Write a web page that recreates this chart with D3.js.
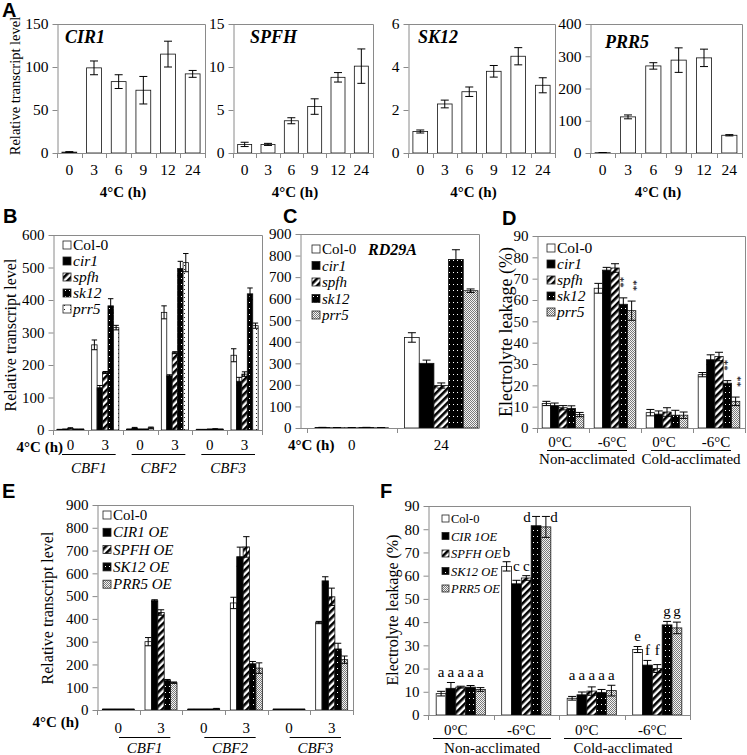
<!DOCTYPE html>
<html><head><meta charset="utf-8">
<script src="https://cdn.jsdelivr.net/npm/d3@7"></script>
<style>body{margin:0;background:#fff}svg{display:block}svg text{font-family:"Liberation Serif","Times New Roman",serif}</style>
</head><body>
<svg id="c" width="747" height="755"></svg>
<script>
// ---------------- DATA ----------------
const timesA = ["0","3","6","9","12","24"];
const genesA = ["CIR1","SPFH","SK12","PRR5"];
const cir1Mean = [1,99,83,73,115,92];
const cir1Err  = [0.6,8,8,16,15,4];
const spfhMean = [1.0,1.0,3.75,5.4,8.8,10.1];
const spfhErr  = [0.25,0.12,0.35,0.9,0.55,2.0];
const sk12Mean = [1.0,2.28,2.85,3.8,4.5,3.15];
const sk12Err  = [0.07,0.18,0.22,0.27,0.4,0.35];
const prr5Mean = [1,112,270,288,295,55];
const prr5Err  = [0.5,6,10,38,27,2];
const ticksCIR1 = [0,50,100,150];
const ticksSPFH = [0,5,10,15];
const ticksSK12 = [0,2,4,6];
const ticksPRR5 = [0,100,200,300,400];

const mutants = ["Col-0","cir1","spfh","sk12","prr5"];
const overexpE = ["Col-0","CIR1 OE","SPFH OE","SK12 OE","PRR5 OE"];
const overexpF = ["Col-0","CIR 1OE","SPFH OE","SK12 OE","PRR5 OE"];
const cbfGenes = ["CBF1","CBF2","CBF3"];
const hoursCBF = ["0","3"];
const hoursC = ["0","24"];
const tempLabels = ["0°C","-6°C","0°C","-6°C"];
const treatLabels = ["Non-acclimated","Cold-acclimated"];

// B: rows = CBF1-0h, CBF1-3h, CBF2-0h, CBF2-3h, CBF3-0h, CBF3-3h ; cols = genotypes
const bMean = [[1,2,5,2,2],[262,130,177,382,315],[2,6,2,2,7],[362,167,238,497,515],[1,1,2,3,2],[230,150,172,419,321]];
const bErr  = [[1,1,2,1,1],[15,7,3,22,7],[1,2,1,1,2],[20,3,3,22,28],[1,1,1,1,1],[20,12,7,18,8]];
const ticksB = [0,100,200,300,400,500,600];

// C: RD29A, rows = 0h, 24h
const cMean = [[2,1,1,2,1],[420,300,197,782,637]];
const cErr  = [[1,1,1,1,1],[22,15,12,45,8]];
const ticksC = [0,100,200,300,400,500,600,700,800,900];

// D: electrolyte leakage, mutants
const dMean = [[11.5,10.5,9.5,9.2,6.3],[65.5,74,75,58,55],[7.2,6.5,7.5,6,6],[25,32,33.5,21,12.5]];
const dErr  = [[1,1.2,1,1.2,1],[2.3,1.3,2,3,4.5],[1.5,1.5,2,2.3,1.5],[1,2.3,2,1.2,2]];
const dStars = [[1,3],[1,4],[3,3],[3,4]]; // [category, genotype] marked "**"
const ticksD = [0,10,20,30,40,50,60,70,80,90];

// E: CBF in overexpressors
const eMean = [[3,3,3,3,3],[300,480,428,130,120],[3,3,3,3,5],[470,673,716,203,184],[3,3,3,3,3],[384,567,497,268,221]];
const eErr  = [[1,1,1,1,1],[18,4,12,4,3],[1,1,1,1,2],[25,42,45,10,23],[1,1,1,1,1],[5,18,38,25,16]];
const ticksE = [0,100,200,300,400,500,600,700,800,900];

// F: electrolyte leakage, overexpressors
const fMean = [[9.2,11.5,12,12,11],[64,56.5,59,81.5,81],[7.2,8.7,10.3,9.7,10.5],[28.2,21.5,20,38.8,37.5]];
const fErr  = [[1,2.5,0.4,0.7,0.8],[2,1.5,1,4,4.5],[0.8,1.2,1.8,1.3,2.3],[1.3,2,1.7,1.5,2.5]];
const fLetters = [["a","a","a","a","a"],["b","c","c","d","d"],["a","a","a","a","a"],["e","f","f","g","g"]];
const ticksF = [0,10,20,30,40,50,60,70,80,90];

// ---------------- STYLE ----------------
const SERIF = '"Liberation Serif", "Times New Roman", serif';
const SANS = '"Liberation Sans", Arial, sans-serif';
const AX = "#8a8a8a";
const svg = d3.select("#c");
const defs = svg.append("defs");

function pattern(id, w, h, build, transform){
  const p = defs.append("pattern").attr("id",id).attr("width",w).attr("height",h).attr("patternUnits","userSpaceOnUse");
  if(transform) p.attr("patternTransform",transform);
  build(p);
}
pattern("stripe",5,5,p=>{p.append("rect").attr("width",5).attr("height",5).attr("fill","#fff");p.append("rect").attr("width",2.6).attr("height",5).attr("fill","#000");},"rotate(45)");
pattern("dots",4,6,p=>{p.append("rect").attr("width",4).attr("height",6).attr("fill","#000");p.append("rect").attr("x",1).attr("y",2).attr("width",1).attr("height",1).attr("fill","#fff");});
pattern("gray",2,2,p=>{p.append("rect").attr("width",2).attr("height",2).attr("fill","#f4f4f4");p.append("rect").attr("width",1).attr("height",1).attr("fill","#7a7a7a");p.append("rect").attr("x",1).attr("y",1).attr("width",1).attr("height",1).attr("fill","#7a7a7a");});
pattern("wdots",6,4,p=>{p.append("rect").attr("width",6).attr("height",4).attr("fill","#fff");p.append("rect").attr("x",4).attr("y",1).attr("width",1).attr("height",1).attr("fill","#222");});

const fillsMain = ["#fff","#000","url(#stripe)","url(#dots)","url(#gray)"];
const fillsB = ["#fff","#000","url(#stripe)","url(#dots)","url(#wdots)"];

function txt(x,y,s,o={}){
  const t = svg.append("text").attr("x",x).attr("y",y).text(s)
    .style("font-family",o.ff||SERIF).style("font-size",(o.fs||15)+"px").attr("fill","#000");
  if(o.anchor) t.attr("text-anchor",o.anchor);
  if(o.bold) t.style("font-weight","bold");
  if(o.italic) t.style("font-style","italic");
  if(o.rot){ t.attr("transform",`rotate(-90,${x},${y})`).attr("text-anchor",o.anchor||"middle").attr("dominant-baseline","central"); }
  return t;
}

// generic grouped bar chart
function chart(o){
  const nC = o.mean.length, nS = o.mean[0].length;
  const x0 = d3.scaleBand().domain(d3.range(nC)).range([o.bl!==undefined?o.bl:o.l, o.br!==undefined?o.br:o.r]);
  const y = d3.scaleLinear().domain([0,o.yMax]).range([o.b,o.t]);
  const bw0 = x0.bandwidth(), inner = bw0*o.frac;
  const x1 = d3.scaleBand().domain(d3.range(nS)).range([0,inner]);
  const g = svg.append("g");
  const cx = (i,j)=> x0(i)+(bw0-inner)/2+x1(j)+x1.bandwidth()/2;
  for(let i=0;i<nC;i++) for(let j=0;j<nS;j++){
    const v=o.mean[i][j];
    g.append("rect").attr("x",x0(i)+(bw0-inner)/2+x1(j)).attr("y",y(v))
      .attr("width",x1.bandwidth()).attr("height",Math.max(0,o.b-y(v)))
      .attr("fill",o.fills[j]).attr("stroke","#111").attr("stroke-width",0.8);
  }
  const cap = Math.min(4, x1.bandwidth()/2);
  for(let i=0;i<nC;i++) for(let j=0;j<nS;j++){
    const v=o.mean[i][j], e=o.err[i][j], c=cx(i,j);
    const y1=y(v+e), y2=y(Math.max(0,v-e));
    g.append("line").attr("x1",c).attr("x2",c).attr("y1",y1).attr("y2",y2).attr("stroke","#000").attr("stroke-width",1);
    [y1,y2].forEach(yy=>g.append("line").attr("x1",c-cap).attr("x2",c+cap).attr("y1",yy).attr("y2",yy).attr("stroke","#000").attr("stroke-width",1));
  }
  g.append("path").attr("d",`M${o.l},${o.t+0.5}H${o.r+0.5}V${o.b}`).attr("fill","none").attr("stroke",AX).attr("stroke-width",1);
  g.append("g").attr("transform",`translate(${o.l+0.5},0)`)
    .call(d3.axisLeft(y).tickValues(o.ticks).tickSize(5).tickSizeOuter(0).tickPadding(4).tickFormat(d3.format("d")))
    .call(s=>{s.attr("font-family",null).attr("font-size",null);
      s.select(".domain").attr("stroke",AX);s.selectAll(".tick line").attr("stroke",AX);
      s.selectAll("text").style("font-family",SERIF).style("font-size",(o.tfs||15)+"px").attr("fill","#000");});
  g.append("line").attr("x1",o.l).attr("x2",o.r+0.5).attr("y1",o.b+0.5).attr("y2",o.b+0.5).attr("stroke",AX);
  for(let i=0;i<=nC;i++){
    const xx = i<nC? x0(i): x0(nC-1)+bw0;
    if(xx<o.l-0.5||xx>o.r+0.5) continue;
    g.append("line").attr("x1",Math.round(xx)+0.5).attr("x2",Math.round(xx)+0.5).attr("y1",o.b).attr("y2",o.b+5).attr("stroke",AX);
  }
  return {x0,y,x1,cx,bw0};
}

function legend(x,y0,dy,names,fills,fs,italicFrom,sw){
  names.forEach((n,i)=>{
    const yy=y0+i*dy;
    svg.append("rect").attr("x",x).attr("y",yy-sw-1).attr("width",sw).attr("height",sw)
      .attr("fill",fills[i]).attr("stroke","#222").attr("stroke-width",0.8);
    txt(x+sw+2,yy,n,{fs:fs,italic:i>=italicFrom});
  });
}

// ---------------- PANEL A ----------------
txt(2,17,"A",{ff:SANS,bold:true,fs:20});
const panelA = [
  {name:genesA[0],mean:cir1Mean,err:cir1Err,ticks:ticksCIR1,l:57,r:205,tx:65,ty:43},
  {name:genesA[1],mean:spfhMean,err:spfhErr,ticks:ticksSPFH,l:233,r:373,tx:250,ty:43},
  {name:genesA[2],mean:sk12Mean,err:sk12Err,ticks:ticksSK12,l:408,r:555,tx:418,ty:43},
  {name:genesA[3],mean:prr5Mean,err:prr5Err,ticks:ticksPRR5,l:590,r:742,tx:605,ty:48}
];
panelA.forEach(p=>{
  const ch = chart({l:p.l,r:p.r,t:24,b:153,yMax:p.ticks[p.ticks.length-1],ticks:p.ticks,
    mean:p.mean.map(v=>[v]),err:p.err.map(v=>[v]),fills:["#fff"],frac:0.6,tfs:15.5});
  timesA.forEach((t,i)=>txt(ch.x0(i)+ch.bw0/2,175,t,{anchor:"middle",fs:15.5}));
  txt((p.l+p.r)/2-8,197,"4°C (h)",{anchor:"middle",bold:true,fs:15});
  txt(p.tx,p.ty,p.name,{bold:true,italic:true,fs:18});
});
txt(15,86,"Relative transcript level",{rot:true,fs:14.5});

// ---------------- PANEL B ----------------
txt(3,223,"B",{ff:SANS,bold:true,fs:20});
const chB = chart({l:53,r:262,t:235,b:430,yMax:600,ticks:ticksB,mean:bMean,err:bErr,fills:fillsB,frac:0.78});
d3.range(6).forEach(i=>txt(chB.x0(i)+chB.bw0/2,450,hoursCBF[i%2],{anchor:"middle",fs:15}));
cbfGenes.forEach((gname,k)=>{
  const xa=chB.x0(2*k)+9, xb=chB.x0(2*k+1)+chB.bw0-7;
  svg.append("line").attr("x1",xa).attr("x2",xb).attr("y1",454.5).attr("y2",454.5).attr("stroke","#000");
  txt((xa+xb)/2,473,gname,{anchor:"middle",italic:true,fs:15});
});
txt(63,452,"4°C (h)",{anchor:"end",bold:true,fs:15});
txt(10,335,"Relative transcript level",{rot:true,fs:16});
legend(63,250,16,mutants,fillsB,15.5,1,8);

// ---------------- PANEL C ----------------
txt(283,223,"C",{ff:SANS,bold:true,fs:20});
const chC = chart({l:300,r:479,bl:307,br:486,t:234,b:428,yMax:900,ticks:ticksC,mean:cMean,err:cErr,fills:fillsMain,frac:0.82});
hoursC.forEach((h,i)=>txt(chC.x0(i)+chC.bw0/2,450,h,{anchor:"middle",fs:15}));
txt(288,450,"4°C (h)",{bold:true,fs:15});
legend(312,254,16.5,mutants,fillsMain,15,1,8);
txt(368,255,"RD29A",{bold:true,italic:true,fs:16});

// ---------------- PANEL D ----------------
txt(502,225,"D",{ff:SANS,bold:true,fs:20});
const chD = chart({l:537,r:745,t:236,b:428,yMax:90,ticks:ticksD,mean:dMean,err:dErr,fills:fillsMain,frac:0.8});
tempLabels.forEach((t,i)=>txt(chD.x0(i)+chD.bw0/2-3,447,t,{anchor:"middle",fs:15}));
treatLabels.forEach((t,k)=>{
  const xa=chD.x0(2*k)+10, xb=chD.x0(2*k+1)+chD.bw0-14;
  svg.append("line").attr("x1",xa).attr("x2",xb).attr("y1",450.5).attr("y2",450.5).attr("stroke","#000");
  txt((xa+xb)/2,464,t,{anchor:"middle",fs:15});
});
// "**" written vertically above the bar (rotated data label)
dStars.forEach(([i,j])=>{
  const top = chD.y(dMean[i][j]+dErr[i][j]);
  const c = chD.cx(i,j) + (j===3?0:4);
  txt(c,top-10,"**",{rot:true,anchor:"start",fs:11});
});
txt(506,332,"Electrolyte leakage (%)",{rot:true,fs:18});
legend(547,253,16,mutants,fillsMain,15.5,1,8);

// ---------------- PANEL E ----------------
txt(2,498,"E",{ff:SANS,bold:true,fs:20});
const chE = chart({l:97,r:353,t:505,b:710,yMax:900,ticks:ticksE,mean:eMean,err:eErr,fills:fillsMain,frac:0.75});
d3.range(6).forEach(i=>txt(chE.x0(i)+chE.bw0/2,733,hoursCBF[i%2],{anchor:"middle",fs:15}));
cbfGenes.forEach((gname,k)=>{
  const xa=chE.x0(2*k)+22, xb=chE.x0(2*k+1)+chE.bw0-12;
  svg.append("line").attr("x1",xa).attr("x2",xb).attr("y1",737.5).attr("y2",737.5).attr("stroke","#000");
  txt((xa+xb)/2,753,gname,{anchor:"middle",italic:true,fs:15});
});
txt(79,727,"4°C (h)",{anchor:"end",bold:true,fs:15});
txt(47,608,"Relative transcript level",{rot:true,fs:16});
legend(103,520,17.3,overexpE,fillsMain,15,1,8);

// ---------------- PANEL F ----------------
txt(380,498,"F",{ff:SANS,bold:true,fs:20});
const chF = chart({l:428,r:690,t:506,b:715,yMax:90,ticks:ticksF,mean:fMean,err:fErr,fills:fillsMain,frac:0.75});
tempLabels.forEach((t,i)=>txt(chF.x0(i)+chF.bw0/2-5,735,t,{anchor:"middle",fs:15}));
treatLabels.forEach((t,k)=>{
  const xa=chF.x0(2*k)+5, xb=chF.x0(2*k+1)+chF.bw0-8;
  svg.append("line").attr("x1",xa).attr("x2",xb).attr("y1",738.5).attr("y2",738.5).attr("stroke","#000");
  txt((xa+xb)/2,753,t,{anchor:"middle",fs:15});
});
fLetters.forEach((row,i)=>{
  const groupTop = d3.max(fMean[i].map((v,k)=>v+fErr[i][k]));
  row.forEach((L,j)=>{
    const top = d3.max(row.map((m,k)=>m===L?fMean[i][k]+fErr[i][k]:-1));
    let dx=0, dy=-5;
    if(L==="d" && top>=groupTop-0.01){ dx=(j===3)?-9:8; dy=6; }
    txt(chF.cx(i,j)+dx,chF.y(top)+dy,L,{anchor:"middle",fs:15});
  });
});
txt(392,610,"Electrolyte leakage (%)",{rot:true,fs:16});
legend(442,523,17.5,overexpF,fillsMain,12.5,1,7);
</script>
</body></html>
